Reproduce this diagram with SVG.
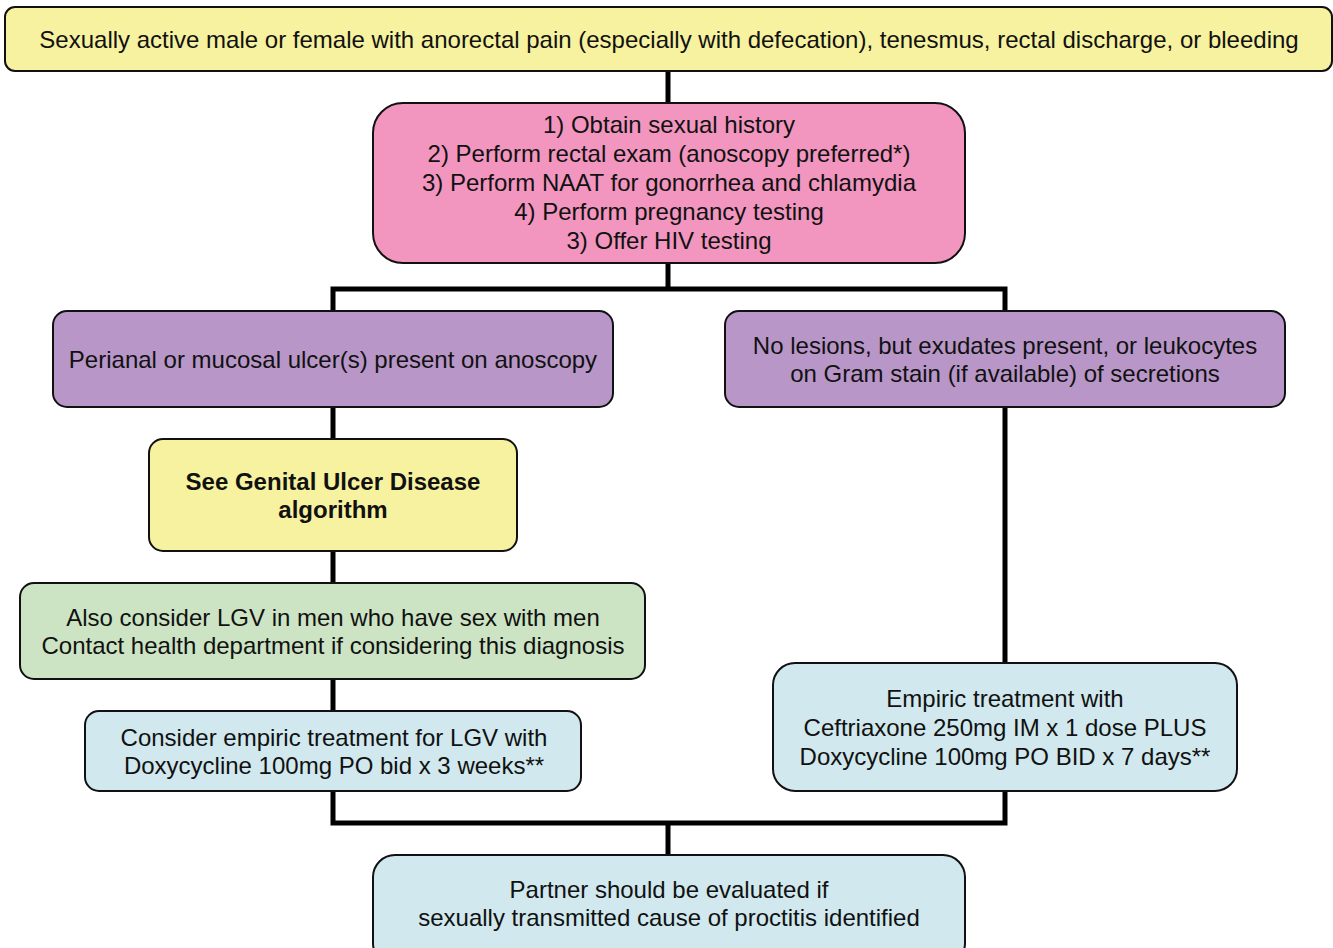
<svg xmlns="http://www.w3.org/2000/svg" width="1333" height="948" viewBox="0 0 1333 948">
  <style>
    .box { stroke: #111; stroke-width: 2; }
    .yellow { fill: #F7F29F; }
    .pink { fill: #F296BF; }
    .purple { fill: #B896C8; }
    .green { fill: #CCE4C4; }
    .blue { fill: #D0E8EE; }
    text { font-family: "Liberation Sans", Arial, sans-serif; font-size: 24px; fill: #111; text-anchor: middle; }
    .bold { font-weight: bold; }
    .wire { fill: none; stroke: #000; stroke-width: 5; stroke-linejoin: miter; stroke-linecap: butt; }
  </style>

  <!-- connectors -->
  <g id="connectors">
    <line class="wire" x1="668" y1="71" x2="668" y2="103"/>
    <polyline class="wire" points="333,311 333,289 1005,289 1005,311"/>
    <line class="wire" x1="668" y1="263" x2="668" y2="289"/>
    <line class="wire" x1="333" y1="407" x2="333" y2="439"/>
    <line class="wire" x1="333" y1="551" x2="333" y2="583"/>
    <line class="wire" x1="333" y1="679" x2="333" y2="711"/>
    <polyline class="wire" points="333,791 333,823 1005,823 1005,791"/>
    <line class="wire" x1="1005" y1="407" x2="1005" y2="663"/>
    <line class="wire" x1="668" y1="823" x2="668" y2="855"/>
  </g>

  <g id="presentation">
    <rect class="box yellow" x="5" y="7" width="1327" height="64" rx="10"/>
    <text x="669" y="48">Sexually active male or female with anorectal pain (especially with defecation), tenesmus, rectal discharge, or bleeding</text>
  </g>

  <g id="workup">
    <rect class="box pink" x="373" y="103" width="592" height="160" rx="30"/>
    <text x="669" y="133">1) Obtain sexual history</text>
    <text x="669" y="162">2) Perform rectal exam (anoscopy preferred*)</text>
    <text x="669" y="191">3) Perform NAAT for gonorrhea and chlamydia</text>
    <text x="669" y="220">4) Perform pregnancy testing</text>
    <text x="669" y="249">3) Offer HIV testing</text>
  </g>

  <g id="ulcers">
    <rect class="box purple" x="53" y="311" width="560" height="96" rx="14"/>
    <text x="333" y="368">Perianal or mucosal ulcer(s) present on anoscopy</text>
  </g>

  <g id="exudates">
    <rect class="box purple" x="725" y="311" width="560" height="96" rx="14"/>
    <text x="1005" y="354">No lesions, but exudates present, or leukocytes</text>
    <text x="1005" y="382">on Gram stain (if available) of secretions</text>
  </g>

  <g id="gud-algorithm">
    <rect class="box yellow" x="149" y="439" width="368" height="112" rx="14"/>
    <text class="bold" x="333" y="490">See Genital Ulcer Disease</text>
    <text class="bold" x="333" y="518">algorithm</text>
  </g>

  <g id="lgv-consider">
    <rect class="box green" x="20" y="583" width="625" height="96" rx="14"/>
    <text x="333" y="626">Also consider LGV in men who have sex with men</text>
    <text x="333" y="654">Contact health department if considering this diagnosis</text>
  </g>

  <g id="lgv-treatment">
    <rect class="box blue" x="85" y="711" width="496" height="80" rx="14"/>
    <text x="334" y="746">Consider empiric treatment for LGV with</text>
    <text x="334" y="774">Doxycycline 100mg PO bid x 3 weeks**</text>
  </g>

  <g id="empiric-treatment">
    <rect class="box blue" x="773" y="663" width="464" height="128" rx="22"/>
    <text x="1005" y="707">Empiric treatment with</text>
    <text x="1005" y="736">Ceftriaxone 250mg IM x 1 dose PLUS</text>
    <text x="1005" y="765">Doxycycline 100mg PO BID x 7 days**</text>
  </g>

  <g id="partner">
    <rect class="box blue" x="373" y="855" width="592" height="110" rx="22"/>
    <text x="669" y="898">Partner should be evaluated if</text>
    <text x="669" y="926">sexually transmitted cause of proctitis identified</text>
  </g>
</svg>
